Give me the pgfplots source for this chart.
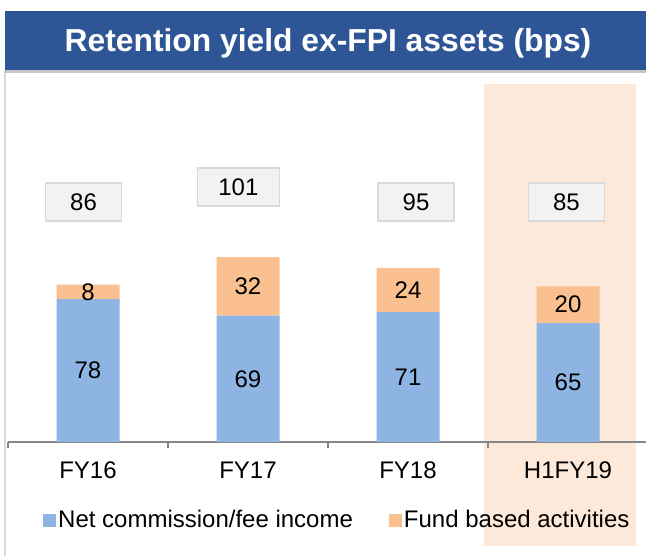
\documentclass[border=0pt]{standalone}
\usepackage{fontspec}
\setmainfont{Liberation Sans}
\usepackage{pgfplots}
\pgfplotsset{compat=1.18}
\usetikzlibrary{shadows}
\definecolor{barblue}{RGB}{142,180,227}
\definecolor{barorange}{RGB}{250,192,144}
\definecolor{hl}{RGB}{253,233,218}
\definecolor{titleblue}{RGB}{46,85,150}
\definecolor{axgray}{RGB}{134,134,134}
\definecolor{boxfill}{RGB}{242,242,242}
\definecolor{boxdraw}{RGB}{217,217,217}
\tikzset{
  seglab/.style={font=\fontsize{24}{28}\selectfont, inner sep=0pt},
  totbox/.style={font=\fontsize{24}{28}\selectfont, fill=boxfill, draw=boxdraw, line width=1.5pt, minimum width=76pt, minimum height=38pt, inner xsep=21pt}
}
\begin{document}
\begin{tikzpicture}[x=1pt,y=1pt]
\draw[boxdraw, line width=1.5pt] (5,0) -- (5,486);
\fill[hl] (484,10) rectangle (636,472);
\begin{axis}[
  clip=false,
  at={(8pt,114pt)}, anchor=south west,
  scale only axis, width=638pt, height=358pt,
  xmin=-0.5, xmax=3.4875, ymin=0, ymax=195.6,
  axis x line*=bottom, axis y line=none,
  ybar stacked, bar width=63pt,
  xtick={0,1,2,3}, xticklabels={FY16,FY17,FY18,H1FY19},
  major tick length=0pt,
  minor xtick={-0.5,0.5,1.5,2.5}, minor tick length=6pt, tick align=outside,
  x axis line style={draw=axgray, line width=1.3pt},
  tick style={draw=axgray, line width=1.3pt},
  xticklabel style={font=\fontsize{24}{28}\selectfont, anchor=base, yshift=-37pt},
  legend image code/.code={\fill[#1] (0pt,-6.5pt) rectangle (13pt,6.5pt);},
  legend style={at={(0.05016,-0.2179)}, anchor=west, draw=none, fill=none,
    legend columns=2, font=\fontsize{24}{28}\selectfont,
    /tikz/every even column/.append style={column sep=34pt}},
  legend cell align=left,
]
\addplot[fill=barblue, draw=none] coordinates {(0,78) (1,69) (2,71) (3,65)};
\addlegendentry{Net commission/fee income}
\addplot[fill=barorange, draw=none] coordinates {(0,8) (1,32) (2,24) (3,20)};
\addlegendentry{Fund based activities}
\coordinate (b0) at (axis cs:0,39);
\coordinate (b1) at (axis cs:1,34.5);
\coordinate (b2) at (axis cs:2,35.5);
\coordinate (b3) at (axis cs:3,32.5);
\coordinate (o0) at (axis cs:0,82);
\coordinate (o1) at (axis cs:1,85);
\coordinate (o2) at (axis cs:2,83);
\coordinate (o3) at (axis cs:3,75);
\coordinate (t0) at (axis cs:-0.028,131.1);
\coordinate (t1) at (axis cs:0.94,139.3);
\coordinate (t2) at (axis cs:2.05,131.1);
\coordinate (t3) at (axis cs:2.99,131.1);
\end{axis}
\node[seglab] at (b0) {78};
\node[seglab] at (b1) {69};
\node[seglab] at (b2) {71};
\node[seglab] at (b3) {65};
\node[seglab] at (o0) {8};
\node[seglab] at (o1) {32};
\node[seglab] at (o2) {24};
\node[seglab] at (o3) {20};
\node[totbox] at (t0) {86};
\node[totbox] at (t1) {101};
\node[totbox] at (t2) {95};
\node[totbox] at (t3) {85};
\fill[titleblue, drop shadow={shadow xshift=0pt, shadow yshift=-3pt, opacity=0.45}] (5,486) rectangle (646,545);
\node[text=white, font=\bfseries\fontsize{31.8}{36}\selectfont, anchor=base, inner sep=0pt] at (328,504) {Retention yield ex-FPI assets (bps)};
\pgfresetboundingbox
\useasboundingbox (0,0) rectangle (646,556);
\end{tikzpicture}
\end{document}
